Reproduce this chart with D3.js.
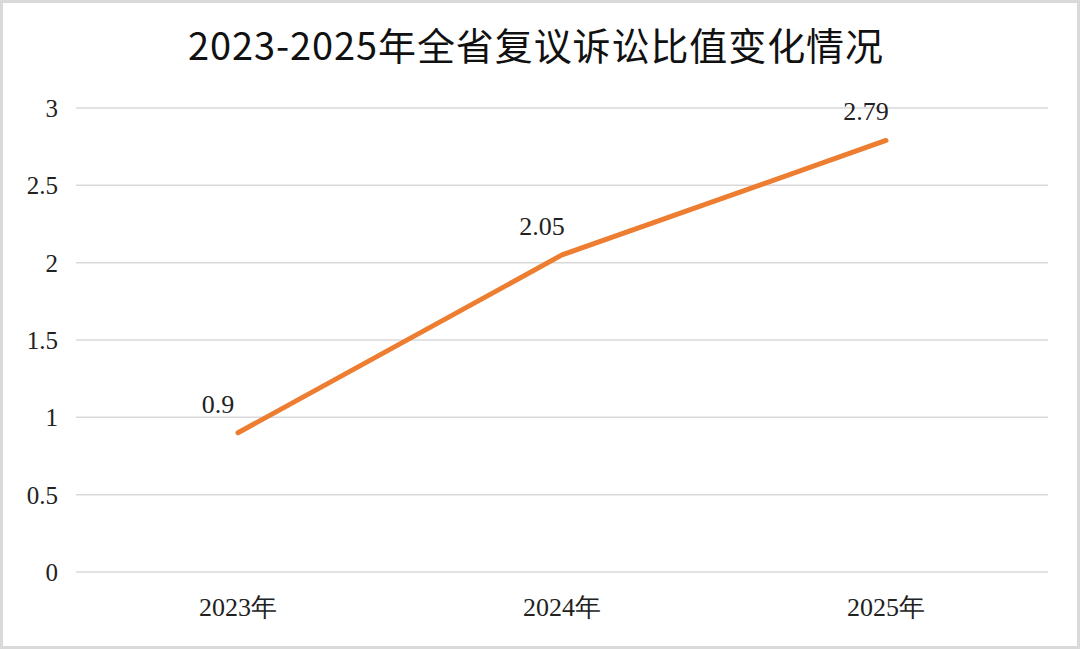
<!DOCTYPE html>
<html><head><meta charset="utf-8">
<script src="https://cdn.jsdelivr.net/npm/d3@7"></script>
<style>
html,body{margin:0;padding:0;background:#fff;}
svg{display:block;}
.serif{font-family:"Liberation Serif","Times New Roman",serif;}
</style></head>
<body>
<svg id="c" width="1080" height="649"></svg>
<script>
const title = "2023-2025年全省复议诉讼比值变化情况";
const categories = ["2023年", "2024年", "2025年"];
const values = [0.9, 2.05, 2.79];
const yTicks = [0, 0.5, 1, 1.5, 2, 2.5, 3];

(function(){
const W = 1080, H = 649;
const svg = d3.select("#c");
svg.append("rect").attr("x",1.5).attr("y",1.5).attr("width",W-3).attr("height",H-3)
  .attr("fill","#fff").attr("stroke","#d9d9d9").attr("stroke-width",3);

const mL = 76, mR = 1048, mT = 108, mB = 572;
const x = d3.scaleBand().domain(categories).range([mL, mR]);
const y = d3.scaleLinear().domain([0, 3]).range([mB, mT]);

svg.append("text").attr("x", 188).attr("y", 60)
  .style("font-family","'Noto Sans CJK SC','DejaVu Sans',sans-serif").style("font-size","38px")
  .attr("textLength", 695).attr("lengthAdjust","spacing")
  .attr("fill","#111").text(title);

const g = svg.append("g");
g.selectAll("line.grid").data(yTicks).join("line").attr("class","grid")
  .attr("x1", mL).attr("x2", mR)
  .attr("y1", d => y(d)).attr("y2", d => y(d))
  .attr("stroke","#d9d9d9").attr("stroke-width",1.5);

const yAxis = d3.axisLeft(y).tickValues(yTicks).tickSize(0).tickPadding(0).tickFormat(d3.format("~g"));
const ya = svg.append("g").attr("transform", `translate(${mL-18},0)`).call(yAxis)
  .attr("font-family", null).attr("font-size", null);
ya.select(".domain").remove();
ya.selectAll("text").attr("class","serif").style("font-size","25px").attr("fill","#222")
  .attr("dy","0.34em");

const xAxis = d3.axisBottom(x).tickSize(0).tickPadding(0);
const xa = svg.append("g").attr("transform", `translate(0,${mB+44})`).call(xAxis)
  .attr("font-family", null).attr("font-size", null);
xa.select(".domain").remove();
xa.selectAll("text").attr("class","serif").style("font-size","26px").attr("fill","#222").attr("dy", 0);

const cx = d => x(d) + x.bandwidth()/2;
const line = d3.line().x((d,i) => cx(categories[i])).y(d => y(d));
svg.append("path").datum(values).attr("d", line).attr("fill","none")
  .attr("stroke","#ED7D31").attr("stroke-width",5).attr("stroke-linecap","round").attr("stroke-linejoin","round");

svg.selectAll("text.lbl").data(values).join("text").attr("class","lbl serif")
  .attr("x",(d,i) => cx(categories[i]) - 20).attr("y", d => y(d) - 20)
  .attr("text-anchor","middle")
  .style("font-size","26px").attr("fill","#222").text(d => d);
})();
</script>
</body></html>
